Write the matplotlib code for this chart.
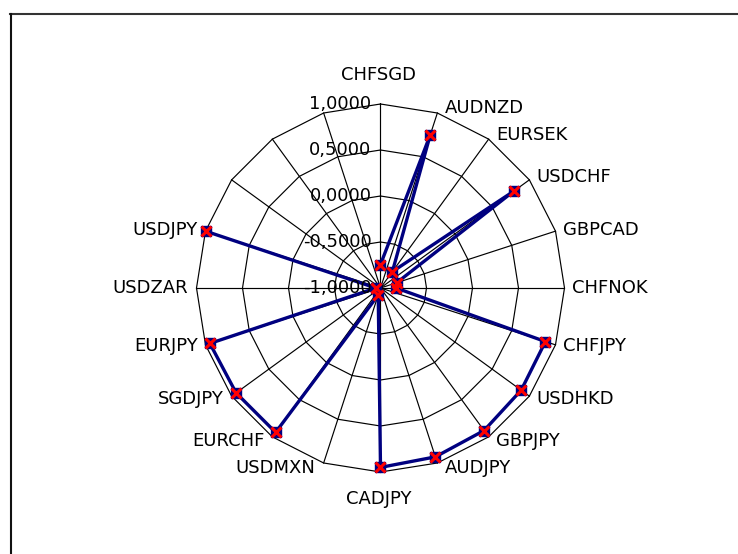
import numpy as np
import matplotlib
matplotlib.use("Agg")
import matplotlib.pyplot as plt
from matplotlib.lines import Line2D

categories = ["CHFSGD", "AUDNZD", "EURSEK", "USDCHF", "GBPCAD", "CHFNOK",
              "CHFJPY", "USDHKD", "GBPJPY", "AUDJPY", "CADJPY", "USDMXN",
              "EURCHF", "SGDJPY", "EURJPY", "USDZAR", "USDJPY", "", "", ""]
values = [-0.745, 0.75, -0.78, 0.79, -0.815, -0.83,
          0.885, 0.89, 0.915, 0.93, 0.95, -0.92,
          0.94, 0.94, 0.95, -0.95, 0.99, np.nan, np.nan, np.nan]
ring_values = [-1.0, -0.5, 0.0, 0.5, 1.0]
ring_labels = ["-1,0000", "-0,5000", "0,0000", "0,5000", "1,0000"]

plt.rcParams['font.family'] = ['DejaVu Sans']
FS = 13

fig = plt.figure(figsize=(7.38, 5.54), dpi=100)
fig.patch.set_facecolor("white")

# chart border (only top and left visible)
fig.add_artist(Line2D([10 / 738, 1.0], [1 - 14 / 554, 1 - 14 / 554],
                      transform=fig.transFigure, color="#333333", lw=1.5))
fig.add_artist(Line2D([10.5 / 738, 10.5 / 738], [0, 1 - 14 / 554],
                      transform=fig.transFigure, color="#111111", lw=1.5))

cx, cy, R = 380.5, 554 - 288, 184
ax = fig.add_axes([(cx - R) / 738, (cy - R) / 554, 2 * R / 738, 2 * R / 554],
                  projection="polar")
ax.set_theta_zero_location("N")
ax.set_theta_direction(-1)
ax.set_ylim(-1.0, 1.0)
ax.grid(False)
ax.spines["polar"].set_visible(False)
ax.set_xticks([])
ax.set_yticks([])
ax.patch.set_alpha(0)

n = len(categories)
theta = np.arange(n) * 2 * np.pi / n

# polygon rings
for rv in ring_values[1:]:
    t = np.append(theta, theta[0])
    ax.plot(t, np.full(len(t), rv), color="black", lw=0.85, zorder=1,
            clip_on=False)
# spokes
for t in theta:
    ax.plot([t, t], [-1.0, 1.0], color="black", lw=0.85, zorder=1,
            clip_on=False)

# data series
vals = np.array(values, dtype=float)
ax.plot(np.append(theta, theta[0]), np.append(vals, vals[0]),
        color="#000080", lw=2.4, zorder=3, clip_on=False)
ax.plot(theta, vals, linestyle="none", marker="s", ms=6.5,
        mfc="#000080", mec="#000080", zorder=4, clip_on=False)
ax.plot(theta, vals, linestyle="none", marker="x", ms=7, mew=2.2,
        color="#ff0000", zorder=5, clip_on=False)

# radial labels
for rv, lab in zip(ring_values, ring_labels):
    ax.annotate(lab, xy=(0, rv), xytext=(-9, 0), textcoords="offset pixels",
                ha="right", va="center", fontsize=FS, color="black",
                annotation_clip=False, zorder=6)

# category labels
for t, lab in zip(theta, categories):
    if not lab:
        continue
    s, c = np.sin(t), np.cos(t)
    if abs(s) < 0.01:
        if c > 0:
            off, ha, va = (-2, 20), "center", "bottom"
        else:
            off, ha, va = (-2, -18), "center", "top"
    else:
        off = (7.5 if s > 0 else -8.0, 5 * c)
        ha = "left" if s > 0 else "right"
        va = "center"
    ax.annotate(lab, xy=(t, 1.0), xytext=off, textcoords="offset pixels",
                ha=ha, va=va, fontsize=FS, color="black",
                annotation_clip=False)

fig.savefig("out.png", dpi=100, facecolor="white")
